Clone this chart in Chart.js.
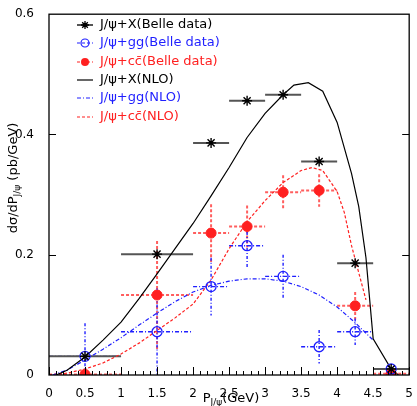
<!DOCTYPE html>
<html>
<head>
<meta charset="utf-8">
<script src="https://cdn.jsdelivr.net/npm/chart.js@4.4.0/dist/chart.umd.min.js"></script>
<style>
  html, body { margin: 0; padding: 0; background: #fff; }
</style>
</head>
<body>
<canvas id="chart" width="417" height="406"></canvas>
<script>
// Belle data, bins in P_J/psi (GeV)
const binCenters = [0.5, 1.5, 2.25, 2.75, 3.25, 3.75, 4.25, 4.75];
const binHalfWidths = [0.5, 0.5, 0.25, 0.25, 0.25, 0.25, 0.25, 0.25];
const belleX = [0.031, 0.201, 0.386, 0.456, 0.466, 0.355, 0.186, 0.010];
const belleGg = [0.031, 0.072, 0.147, 0.215, 0.164, 0.047, 0.072, 0.010];
const belleGgErr = [0.055, 0.072, 0.048, 0.036, 0.036, 0.028, 0.022, 0.0];
const belleCc = [0.001, 0.133, 0.236, 0.247, 0.304, 0.307, 0.115, 0.002];
const belleCcErr = [0.0, 0.09, 0.048, 0.035, 0.028, 0.027, 0.023, 0.0];

// NLO curves
const nloXP = [0.1, 0.25, 0.5, 0.75, 1.0, 1.25, 1.5, 1.75, 2.0, 2.25, 2.5, 2.75, 3.0, 3.25, 3.4, 3.6, 3.8, 4.0, 4.2, 4.3, 4.4, 4.5, 4.75, 4.85];
const nloXY = [0.0, 0.008, 0.03, 0.058, 0.088, 0.127, 0.168, 0.21, 0.252, 0.298, 0.345, 0.395, 0.435, 0.466, 0.482, 0.486, 0.472, 0.42, 0.335, 0.28, 0.195, 0.06, 0.01, 0.0];
const nloGgP = [0.05, 0.25, 0.5, 0.75, 1.0, 1.25, 1.5, 1.75, 2.0, 2.25, 2.5, 2.75, 3.0, 3.25, 3.5, 3.75, 4.0, 4.25, 4.5];
const nloGgY = [0.0, 0.008, 0.025, 0.043, 0.062, 0.083, 0.103, 0.122, 0.138, 0.149, 0.156, 0.16, 0.16, 0.156, 0.147, 0.133, 0.113, 0.087, 0.058];
const nloCcP = [0.0, 0.25, 0.5, 0.75, 1.0, 1.25, 1.5, 1.75, 2.0, 2.25, 2.5, 2.75, 3.0, 3.25, 3.5, 3.65, 3.8, 4.0, 4.1, 4.2, 4.3, 4.4];
const nloCcY = [0.0, 0.003, 0.01, 0.02, 0.035, 0.053, 0.074, 0.095, 0.118, 0.158, 0.21, 0.255, 0.29, 0.32, 0.34, 0.345, 0.34, 0.305, 0.27, 0.215, 0.17, 0.125];

const xTicks = [0, 0.5, 1, 1.5, 2, 2.5, 3, 3.5, 4, 4.5, 5];
const yTicks = [0, 0.2, 0.4, 0.6];

const FONT = '"DejaVu Sans", sans-serif';
const BLUE = '#1f1fff';
const RED = '#ff2020';

const pts = (xs, ys) => xs.map((x, i) => ({ x: x, y: ys[i] }));

const errorStyles = [
  { ys: belleX, errs: null, color: '#555', width: 2, hDash: [], vDash: [] },
  { ys: belleGg, errs: belleGgErr, color: BLUE, width: 1.4, hDash: [4, 2, 1, 2], vDash: [3, 2, 1, 2] },
  { ys: belleCc, errs: belleCcErr, color: 'rgba(255,40,40,0.75)', width: 2, hDash: [3, 2], vDash: [3, 2] }
];

const errorBars = {
  id: 'errorBars',
  beforeDatasetsDraw(chart) {
    const ctx = chart.ctx, xs = chart.scales.x, ys = chart.scales.y, a = chart.chartArea;
    ctx.save();
    ctx.beginPath();
    ctx.rect(a.left, a.top, a.right - a.left, a.bottom - a.top);
    ctx.clip();
    errorStyles.slice().reverse().forEach(s => {
      ctx.strokeStyle = s.color;
      ctx.lineWidth = s.width;
      binCenters.forEach((c, i) => {
        const py = ys.getPixelForValue(s.ys[i]);
        ctx.setLineDash(s.hDash);
        ctx.beginPath();
        ctx.moveTo(xs.getPixelForValue(c - binHalfWidths[i]), py);
        ctx.lineTo(xs.getPixelForValue(c + binHalfWidths[i]), py);
        ctx.stroke();
        if (s.errs && s.errs[i] > 0) {
          const px = xs.getPixelForValue(c);
          ctx.setLineDash(s.vDash);
          ctx.beginPath();
          ctx.moveTo(px, ys.getPixelForValue(s.ys[i] + s.errs[i]));
          ctx.lineTo(px, ys.getPixelForValue(s.ys[i] - s.errs[i]));
          ctx.stroke();
        }
      });
    });
    ctx.restore();
  }
};

function drawRich(ctx, parts, cx, baseline) {
  let w = 0;
  parts.forEach(p => {
    ctx.font = (p.sub ? '9px ' : '13px ') + FONT;
    p.w = ctx.measureText(p.t).width;
    w += p.w;
  });
  let x = cx - w / 2;
  parts.forEach(p => {
    ctx.font = (p.sub ? '9px ' : '13px ') + FONT;
    ctx.fillText(p.t, x, baseline + (p.sub ? 3 : 0));
    x += p.w;
  });
}

function drawStar(ctx, x, y, r) {
  ctx.beginPath();
  ctx.moveTo(x - r, y); ctx.lineTo(x + r, y);
  ctx.moveTo(x, y - r); ctx.lineTo(x, y + r);
  const d = r * 0.7071;
  ctx.moveTo(x - d, y - d); ctx.lineTo(x + d, y + d);
  ctx.moveTo(x - d, y + d); ctx.lineTo(x + d, y - d);
  ctx.stroke();
}

const frame = {
  id: 'frame',
  afterDraw(chart) {
    const ctx = chart.ctx, xs = chart.scales.x, ys = chart.scales.y, a = chart.chartArea;
    ctx.save();
    ctx.strokeStyle = '#000';
    ctx.lineWidth = 1.3;
    ctx.setLineDash([]);
    ctx.strokeRect(a.left, a.top, a.right - a.left, a.bottom - a.top);
    ctx.lineWidth = 1;
    ctx.beginPath();
    for (let k = 0; k <= 50; k++) {
      const px = Math.round(xs.getPixelForValue(k / 10)) + 0.5;
      const len = k % 5 === 0 ? 8 : 4;
      ctx.moveTo(px, a.bottom);
      ctx.lineTo(px, a.bottom - len);
    }
    yTicks.slice(1, -1).forEach(v => {
      const py = Math.round(ys.getPixelForValue(v)) + 0.5;
      ctx.moveTo(a.left, py); ctx.lineTo(a.left + 7, py);
      ctx.moveTo(a.right, py); ctx.lineTo(a.right - 7, py);
    });
    ctx.stroke();

    // axis titles
    ctx.fillStyle = '#000';
    ctx.textAlign = 'left';
    ctx.textBaseline = 'alphabetic';
    drawRich(ctx, [{ t: 'P' }, { t: 'J/\u03c8', sub: true }, { t: '(GeV)' }], 231, 402);
    ctx.save();
    ctx.translate(17, 178);
    ctx.rotate(-Math.PI / 2);
    drawRich(ctx, [{ t: 'd\u03c3/dP' }, { t: 'J/\u03c8', sub: true }, { t: ' (pb/GeV)' }], 0, 0);
    ctx.restore();

    // legend
    const rows = [
      { text: 'J/\u03c8+X(Belle data)', color: '#000', kind: 'star' },
      { text: 'J/\u03c8+gg(Belle data)', color: BLUE, kind: 'open' },
      { text: 'J/\u03c8+cc\u0304(Belle data)', color: RED, kind: 'filled' },
      { text: 'J/\u03c8+X(NLO)', color: '#000', kind: 'solid' },
      { text: 'J/\u03c8+gg(NLO)', color: BLUE, kind: 'dashdot' },
      { text: 'J/\u03c8+cc\u0304(NLO)', color: RED, kind: 'dashed' }
    ];
    const ly = [25, 43, 62, 80, 98, 117];
    rows.forEach((r, i) => {
      const y = ly[i];
      ctx.lineWidth = 1.2;
      ctx.strokeStyle = r.color;
      ctx.fillStyle = r.color;
      ctx.setLineDash(r.kind === 'dashdot' ? [4, 2, 1, 2] : (r.kind === 'dashed' || r.kind === 'open' || r.kind === 'filled') ? [3, 2] : []);
      if (r.kind === 'star') { ctx.strokeStyle = '#555'; ctx.lineWidth = 2; }
      ctx.beginPath();
      ctx.moveTo(77, y); ctx.lineTo(93, y);
      ctx.stroke();
      ctx.setLineDash([]);
      ctx.strokeStyle = r.color;
      if (r.kind === 'star') { ctx.lineWidth = 1.3; drawStar(ctx, 85, y, 4); }
      if (r.kind === 'open') { ctx.lineWidth = 1.2; ctx.beginPath(); ctx.arc(85, y, 4, 0, Math.PI * 2); ctx.stroke(); }
      if (r.kind === 'filled') { ctx.beginPath(); ctx.arc(85, y, 4, 0, Math.PI * 2); ctx.fill(); }
      ctx.font = '13px ' + FONT;
      ctx.textBaseline = 'middle';
      ctx.fillText(r.text, 100, y);
    });
    ctx.restore();
  }
};

new Chart(document.getElementById('chart'), {
  type: 'line',
  data: {
    datasets: [
      { data: pts(binCenters, belleX), showLine: false, pointStyle: 'star', pointRadius: 5, borderColor: '#000', borderWidth: 1.4 },
      { data: pts(binCenters, belleGg), showLine: false, pointStyle: 'circle', pointRadius: 5, borderColor: BLUE, backgroundColor: 'rgba(0,0,0,0)', borderWidth: 1.3 },
      { data: pts(binCenters, belleCc), showLine: false, pointStyle: 'circle', pointRadius: 5, borderColor: RED, backgroundColor: RED, borderWidth: 1 },
      { data: pts(nloXP, nloXY), pointRadius: 0, borderColor: '#000', borderWidth: 1.2, tension: 0 },
      { data: pts(nloGgP, nloGgY), pointRadius: 0, borderColor: BLUE, borderWidth: 1.2, borderDash: [4, 2, 1, 2], tension: 0 },
      { data: pts(nloCcP, nloCcY), pointRadius: 0, borderColor: RED, borderWidth: 1.2, borderDash: [3, 2], tension: 0 }
    ]
  },
  options: {
    responsive: false,
    animation: false,
    devicePixelRatio: 1,
    layout: { padding: { top: 12, right: 5, left: 0, bottom: 0 } },
    plugins: { legend: { display: false }, tooltip: { enabled: false } },
    scales: {
      x: {
        type: 'linear', min: 0, max: 5,
        grid: { display: false }, border: { display: false },
        afterBuildTicks: s => { s.ticks = xTicks.map(v => ({ value: v })); },
        afterFit: s => { s.height = 31; },
        ticks: { color: '#000', padding: 4, font: { family: FONT, size: 12 }, maxRotation: 0, callback: v => String(Number(v.toFixed(1))) }
      },
      y: {
        min: 0, max: 0.6,
        grid: { display: false }, border: { display: false },
        afterBuildTicks: s => { s.ticks = yTicks.map(v => ({ value: v })); },
        afterFit: s => { s.width = 49; },
        ticks: { color: '#000', padding: 7, font: { family: FONT, size: 12 }, callback: v => String(Number(v.toFixed(1))) }
      }
    }
  },
  plugins: [errorBars, frame]
});
</script>
</body>
</html>
